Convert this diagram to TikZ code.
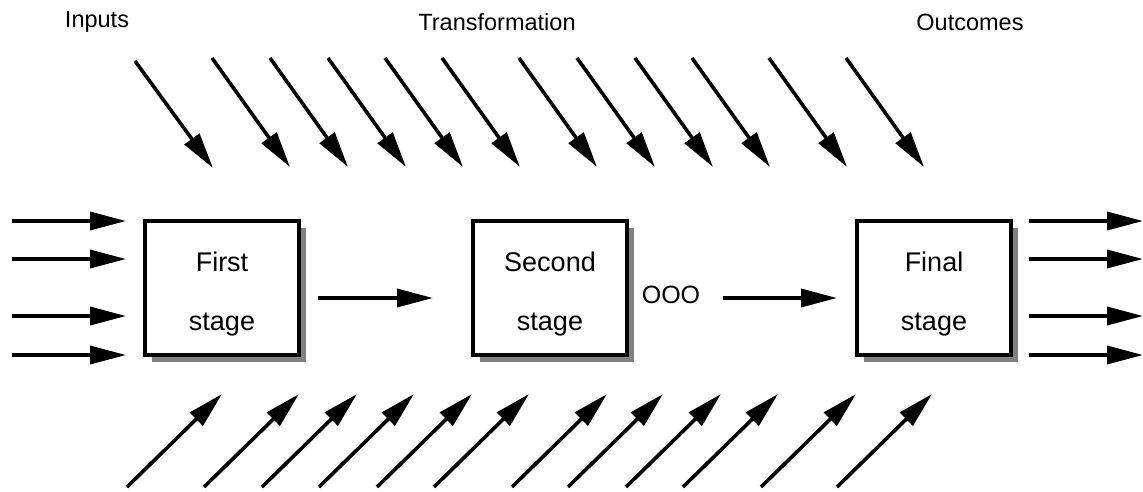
\documentclass[tikz,border=0pt]{standalone}
\usepackage{fontspec}
\setmainfont{Liberation Sans}
\usetikzlibrary{arrows.meta,shadows}
\begin{document}
\begin{tikzpicture}[x=1pt,y=-1pt,
  arr/.style={line width=3.6pt,-{Triangle[length=36pt,width=18pt]}},
  stagebox/.style={draw,line width=3.5pt,fill=white,minimum width=154pt,minimum height=134pt,
    outer sep=0pt,inner sep=0pt,align=center,font=\fontsize{27}{59}\selectfont,
    drop shadow={shadow xshift=7pt,shadow yshift=-7pt,fill=black!50,opacity=1}},
  lbl/.style={font=\fontsize{23.5}{28}\selectfont,inner sep=0pt}]
\useasboundingbox (0,0) rectangle (1143,491);
% labels
\node[lbl] (inputs) at (97,22) {Inputs};
\node[lbl] (transf) at (497,22) {Transformation};
\node[lbl] (outc) at (970,22) {Outcomes};
% stages
\node[stagebox] (b1) at (222,288) {\rule{0pt}{31pt}First\\stage};
\node[stagebox] (b2) at (550,288) {\rule{0pt}{31pt}Second\\stage};
\node[stagebox] (b3) at (934,288) {\rule{0pt}{31pt}Final\\stage};
\node[lbl,font=\fontsize{25}{28}\selectfont] (ooo) at (671,295) {OOO};
% stage connectors
\draw[arr,shorten <=19pt,shorten >=40pt] ([yshift=-10pt]b1.east) -- ([yshift=-10pt]b2.west);
\coordinate (m2s) at (723,298);
\coordinate (m2e) at (837,298);
\draw[arr] (m2s) -- (m2e);
% inputs and outcomes
\foreach \y [count=\i] in {221,259,316,355}{
  \coordinate (in\i s) at (12,\y);
  \coordinate (in\i e) at (126,\y);
  \draw[arr] (in\i s) -- (in\i e);
  \coordinate (out\i s) at (1029,\y);
  \coordinate (out\i e) at (1143,\y);
  \draw[arr] (out\i s) -- (out\i e);
}
% top arrows
\coordinate (t1s) at (135,61);
\coordinate (t1e) at (213,168);
\draw[arr] (t1s) -- (t1e);
\foreach \x [count=\i from 2] in {212,270,328,385,442,519,577,635,692,769,846}{
  \coordinate (t\i s) at (\x,58);
  \coordinate (t\i e) at (\x+78,167);
  \draw[arr] (t\i s) -- (t\i e);
}
% bottom arrows
\foreach \x [count=\i] in {127,204,262,319,377,434,512,568,626,683,761,837}{
  \coordinate (u\i s) at (\x,487);
  \coordinate (u\i e) at (\x+95,394);
  \draw[arr] (u\i s) -- (u\i e);
}
\end{tikzpicture}
\end{document}
